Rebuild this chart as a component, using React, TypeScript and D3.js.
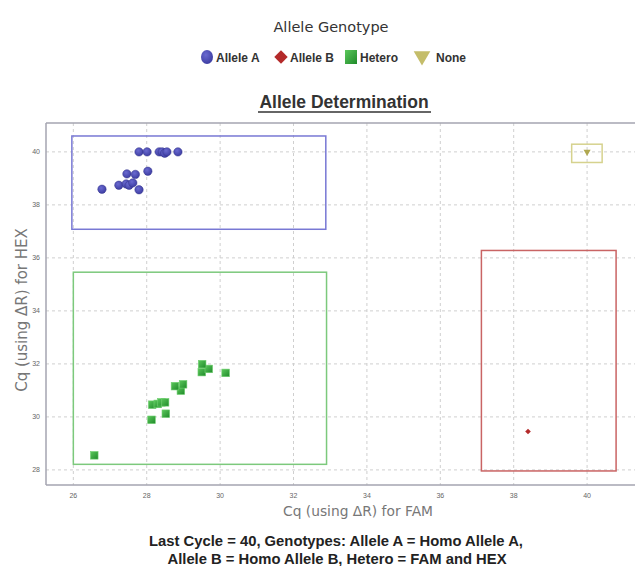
import React from 'react';
import * as d3 from 'd3';

// Cq (FAM, HEX) per well
const alleleA: [number, number][] = [
  [26.78, 38.59], [27.24, 38.74], [27.44, 38.79], [27.52, 38.74], [27.62, 38.83],
  [27.79, 38.57], [27.46, 39.17], [27.69, 39.15], [28.03, 39.27], [27.79, 40.0],
  [28.01, 40.0], [28.34, 40.0], [28.42, 40.0], [28.49, 39.95], [28.55, 40.0], [28.85, 40.0],
];
const alleleB: [number, number][] = [[38.39, 29.45]];
const hetero: [number, number][] = [
  [26.57, 28.55], [28.13, 29.89], [28.52, 30.12], [28.15, 30.46], [28.3, 30.49],
  [28.4, 30.55], [28.5, 30.55], [28.93, 30.99], [28.77, 31.16], [28.99, 31.23],
  [29.5, 31.69], [29.69, 31.81], [29.51, 31.99], [30.15, 31.66],
];
const noCall: [number, number][] = [[40.0, 40.0]];

// call regions: [famMin, famMax, hexMin, hexMax]
const regionA = [25.96, 32.88, 37.08, 40.6];
const regionB = [37.12, 40.79, 27.96, 36.28];
const regionHetero = [26.0, 32.9, 28.21, 35.46];
const regionNone = [39.58, 40.41, 39.6, 40.29];

const xTicks = [26, 28, 30, 32, 34, 36, 38, 40];
const yTicks = [28, 30, 32, 34, 36, 38, 40];
const legendLabels = ['Allele A', 'Allele B', 'Hetero', 'None'];

const W = 635;
const H = 566;
const margin = { top: 123, right: -2, bottom: 81, left: 46 };

const colors = {
  a: '#3b3ba0', b: '#b42a2a', het: '#2e9e38', none: '#c4bd6a',
  aBox: '#7878d4', bBox: '#c96464', hetBox: '#7cc97c', noneBox: '#d6d28e',
};

const x = d3.scaleLinear().domain([25.255, 41.36]).range([margin.left, W - margin.right]);
const y = d3.scaleLinear().domain([27.43, 41.09]).range([H - margin.bottom, margin.top]);

const sym = (type: d3.SymbolType, size: number) => d3.symbol().type(type).size(size)() || '';

const Region = ({ r, stroke }: { r: number[]; stroke: string }) => (
  <rect
    x={x(r[0])}
    y={y(r[3])}
    width={x(r[1]) - x(r[0])}
    height={y(r[2]) - y(r[3])}
    fill="none"
    stroke={stroke}
    strokeWidth={1.5}
  />
);

export default function App() {
  const font = '"Liberation Sans", Arial, sans-serif';
  const soft = '"DejaVu Sans", "Noto Sans", sans-serif';
  const legendX = [207, 281, 351, 422];
  const legendTextX = [216, 290, 360, 436];
  const legendY = 57;

  return (
    <svg width={W} height={H} style={{ position: 'absolute', left: 0, top: 0, background: '#fff' }}>
      <defs>
        <radialGradient id="gA" cx="40%" cy="35%" r="70%">
          <stop offset="0%" stopColor="#6a6ad0" />
          <stop offset="100%" stopColor={colors.a} />
        </radialGradient>
        <linearGradient id="gH" x1="0" y1="0" x2="1" y2="1">
          <stop offset="0%" stopColor="#5cc85c" />
          <stop offset="100%" stopColor="#1f8a2a" />
        </linearGradient>
      </defs>

      {/* legend */}
      <text x={331} y={32} textAnchor="middle" fontFamily={soft} fontSize={14.5} fill="#333">
        Allele Genotype
      </text>
      <ellipse cx={legendX[0]} cy={legendY} rx={6} ry={7} fill="url(#gA)" />
      <path d={sym(d3.symbolSquare, 90)} transform={`translate(${legendX[1]},${legendY}) rotate(45)`} fill={colors.b} />
      <rect x={legendX[2] - 6} y={legendY - 7} width={12} height={14} fill="url(#gH)" />
      <path d={sym(d3.symbolTriangle, 120)} transform={`translate(${legendX[3]},${legendY - 1}) rotate(180)`} fill={colors.none} />
      {legendLabels.map((l, i) => (
        <text key={l} x={legendTextX[i]} y={legendY + 4.5} fontFamily={font} fontSize={12} fontWeight={600} fill="#333">
          {l}
        </text>
      ))}

      {/* title */}
      <text x={344} y={108} textAnchor="middle" fontFamily={font} fontSize={17.5} fontWeight="bold" fill="#333">
        Allele Determination
      </text>
      <line x1={258} x2={431} y1={112} y2={112} stroke="#333" strokeWidth={1.5} />

      {/* grid */}
      {xTicks.map(t => (
        <line key={'gx' + t} x1={x(t)} x2={x(t)} y1={margin.top} y2={H - margin.bottom}
          stroke="#cfcfcf" strokeDasharray="3,3" />
      ))}
      {yTicks.map(t => (
        <line key={'gy' + t} x1={margin.left} x2={W} y1={y(t)} y2={y(t)}
          stroke="#cfcfcf" strokeDasharray="3,3" />
      ))}

      {/* frame */}
      <line x1={margin.left} x2={W} y1={margin.top} y2={margin.top} stroke="#a4a4b0" strokeWidth={1.5} />
      <line x1={margin.left} x2={W} y1={H - margin.bottom} y2={H - margin.bottom} stroke="#a4a4b0" strokeWidth={1.5} />
      <line x1={margin.left} x2={margin.left} y1={margin.top} y2={H - margin.bottom} stroke="#a4a4b0" strokeWidth={1.5} />

      {/* ticks */}
      {xTicks.map(t => (
        <text key={'tx' + t} x={x(t)} y={H - margin.bottom + 13} textAnchor="middle" fontFamily={font} fontSize={7} fill="#666">
          {t}
        </text>
      ))}
      {yTicks.map(t => (
        <text key={'ty' + t} x={margin.left - 6} y={y(t) + 2.5} textAnchor="end" fontFamily={font} fontSize={7} fill="#666">
          {t}
        </text>
      ))}

      {/* call regions */}
      <Region r={regionA} stroke={colors.aBox} />
      <Region r={regionHetero} stroke={colors.hetBox} />
      <Region r={regionB} stroke={colors.bBox} />
      <Region r={regionNone} stroke={colors.noneBox} />

      {/* wells */}
      {alleleA.map((d, i) => (
        <circle key={'a' + i} cx={x(d[0])} cy={y(d[1])} r={4.2} fill="url(#gA)" stroke="#33338a" strokeWidth={0.5} />
      ))}
      {hetero.map((d, i) => (
        <rect key={'h' + i} x={x(d[0]) - 3.8} y={y(d[1]) - 3.8} width={7.6} height={7.6}
          fill="url(#gH)" stroke="#6fcf6f" strokeWidth={0.6} />
      ))}
      {alleleB.map((d, i) => (
        <path key={'b' + i} d={sym(d3.symbolSquare, 16)} transform={`translate(${x(d[0])},${y(d[1])}) rotate(45)`} fill={colors.b} />
      ))}
      {noCall.map((d, i) => (
        <path key={'n' + i} d={sym(d3.symbolTriangle, 22)} transform={`translate(${x(d[0])},${y(d[1])}) rotate(180)`} fill="#b0a850" />
      ))}

      {/* axis titles */}
      <text x={358} y={516} textAnchor="middle" fontFamily={soft} fontSize={13.8} fill="#777">
        Cq (using ΔR) for FAM
      </text>
      <text transform="translate(27,310) rotate(-90)" textAnchor="middle" fontFamily={soft} fontSize={15} fill="#777">
        Cq (using ΔR) for HEX
      </text>

      {/* footer */}
      <text x={336} y={546} textAnchor="middle" fontFamily={font} fontSize={14.8} fontWeight="bold" fill="#222">
        Last Cycle = 40, Genotypes: Allele A = Homo Allele A,
      </text>
      <text x={337} y={564} textAnchor="middle" fontFamily={font} fontSize={14.8} fontWeight="bold" fill="#222">
        Allele B = Homo Allele B, Hetero = FAM and HEX
      </text>
    </svg>
  );
}
